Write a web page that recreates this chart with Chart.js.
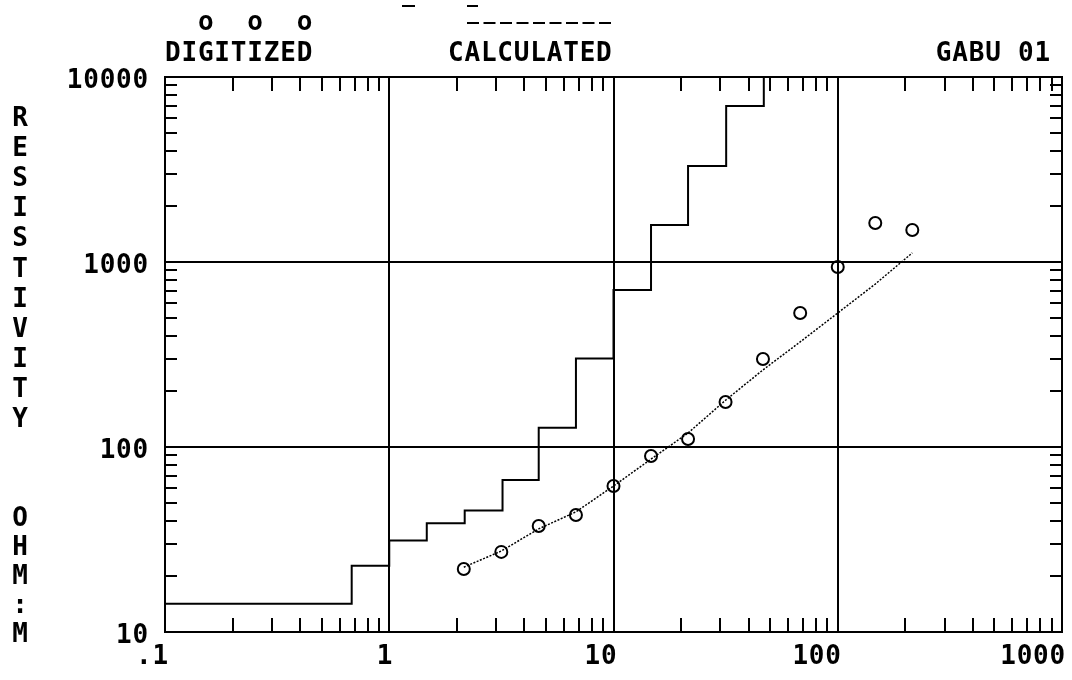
<!DOCTYPE html>
<html>
<head>
<meta charset="utf-8">
<title>GABU 01</title>
<script src="https://cdn.jsdelivr.net/npm/chart.js@4.4.1/dist/chart.umd.min.js"></script>
<style>
  html, body { margin: 0; padding: 0; background: #fff; }
  #wrap { width: 1072px; height: 680px; position: relative; }
</style>
</head>
<body>
<div id="wrap"><canvas id="sounding"></canvas></div>
<script>
// Sounding GABU 01 - apparent resistivity against AB/2 spacing
const spacing = [2.15, 3.16, 4.64, 6.8, 10, 14.7, 21.5, 31.6, 46.4, 68, 100, 147, 215];
const digitized = [21.9, 27.1, 37.4, 42.9, 61.5, 89.4, 110.5, 175, 299, 530, 940, 1625, 1490];
const calculated = [22.4, 27.4, 36.1, 44.6, 61.5, 86, 119, 179, 261, 370, 530, 760, 1120];

// layer model, drawn as a step curve
const layerTop = [0.1, 0.68, 1.0, 1.47, 2.17, 3.2, 4.64, 6.8, 10, 14.7, 21.5, 31.8, 46.8];
const layerRes = [14.2, 22.8, 31.2, 38.7, 45.3, 66.3, 127, 301, 706, 1585, 3300, 6970, 10000];

const xDecades = [0.1, 1, 10, 100, 1000];
const yDecades = [10, 100, 1000, 10000];
const xTickLabels = ['.1', '1', '10', '100', '1000'];
const yTickLabels = ['10', '100', '1000', '10000'];

const FONT = "'DejaVu Sans Mono', monospace";
const SPACING = '0.8px';

// 1..9 in every decade, for the small inside ticks
function minorTicks(decades) {
  const out = [];
  decades.forEach((d, i) => {
    if (i === decades.length - 1) {
      out.push(d);
      return;
    }
    for (let m = 1; m <= 9; m++) out.push(+(d * m).toPrecision(3));
  });
  return out;
}

function isDecade(v, decades) {
  return decades.some((d) => Math.abs(d - v) < d * 1e-6);
}

function pairs(xs, ys) {
  return xs.map((x, i) => ({ x: x, y: ys[i] }));
}

const framePlugin = {
  id: 'frame',
  beforeDraw(chart) {
    chart.ctx.letterSpacing = SPACING;
  },
  afterDraw(chart) {
    const { ctx, chartArea: a } = chart;
    const x = chart.scales.x;
    const y = chart.scales.y;

    ctx.save();
    ctx.strokeStyle = '#000';
    ctx.lineWidth = 2;
    ctx.strokeRect(a.left, a.top, a.right - a.left, a.bottom - a.top);

    // inside ticks on all four sides
    ctx.beginPath();
    x.ticks.forEach((t) => {
      const px = Math.round(x.getPixelForValue(t.value));
      ctx.moveTo(px, a.bottom);
      ctx.lineTo(px, a.bottom - 14);
      ctx.moveTo(px, a.top);
      ctx.lineTo(px, a.top + 14);
    });
    y.ticks.forEach((t) => {
      const py = Math.round(y.getPixelForValue(t.value));
      ctx.moveTo(a.left, py);
      ctx.lineTo(a.left + 12, py);
      ctx.moveTo(a.right, py);
      ctx.lineTo(a.right - 12, py);
    });
    ctx.stroke();

    // header
    ctx.fillStyle = '#000';
    ctx.font = 'bold 26px ' + FONT;
    ctx.letterSpacing = SPACING;
    ctx.textBaseline = 'alphabetic';
    ctx.textAlign = 'left';
    ctx.fillText('  o  o  o', 165, 30);
    ctx.fillText('DIGITIZED', 165, 61);
    ctx.fillText('CALCULATED', 448, 61);
    ctx.textAlign = 'right';
    ctx.fillText('GABU 01', 1051, 61);

    ctx.lineWidth = 2;
    ctx.beginPath();
    ctx.moveTo(402, 6);
    ctx.lineTo(415, 6);
    ctx.moveTo(467, 6);
    ctx.lineTo(478, 6);
    ctx.stroke();
    ctx.setLineDash([12, 4.5]);
    ctx.beginPath();
    ctx.moveTo(467, 23);
    ctx.lineTo(613, 23);
    ctx.stroke();
    ctx.setLineDash([]);

    // vertical axis title, one letter per line
    ctx.textAlign = 'center';
    ctx.letterSpacing = '0px';
    'RESISTIVITY'.split('').forEach((c, i) => {
      ctx.fillText(c, 20, 117 + i * 30.1 + 9);
    });
    'OHM:M'.split('').forEach((c, i) => {
      ctx.fillText(c, 20, 517 + i * 29 + 9);
    });
    ctx.restore();
  },
};

new Chart(document.getElementById('sounding'), {
  type: 'scatter',
  data: {
    datasets: [
      {
        label: 'DIGITIZED',
        data: pairs(spacing, digitized),
        showLine: false,
        pointStyle: 'circle',
        pointRadius: 6,
        pointBorderWidth: 2,
        pointBorderColor: '#000',
        pointBackgroundColor: 'rgba(0,0,0,0)',
      },
      {
        label: 'CALCULATED',
        data: pairs(spacing, calculated),
        showLine: true,
        borderColor: '#000',
        borderWidth: 1.5,
        borderDash: [2, 1.5],
        pointRadius: 0,
      },
      {
        label: 'MODEL',
        data: pairs(layerTop, layerRes),
        showLine: true,
        stepped: 'before',
        borderColor: '#000',
        borderWidth: 2,
        pointRadius: 0,
      },
    ],
  },
  options: {
    responsive: true,
    maintainAspectRatio: false,
    animation: false,
    events: [],
    layout: { padding: { top: 77, right: 8, left: 0, bottom: 0 } },
    font: { family: FONT },
    plugins: {
      legend: { display: false },
      tooltip: { enabled: false },
    },
    scales: {
      x: {
        type: 'logarithmic',
        min: 0.1,
        max: 1000,
        afterBuildTicks: (scale) => {
          scale.ticks = minorTicks(xDecades).map((v) => ({ value: v }));
        },
        afterFit: (scale) => {
          scale.height = 48;
        },
        border: { display: false },
        grid: {
          drawTicks: false,
          lineWidth: 2,
          color: (c) => (c.tick && isDecade(c.tick.value, xDecades) ? '#000' : 'rgba(0,0,0,0)'),
        },
        ticks: {
          autoSkip: false,
          maxRotation: 0,
          align: 'end',
          labelOffset: 4,
          padding: 10,
          color: '#000',
          font: { family: FONT, size: 26, weight: 'bold' },
          callback: (v) => {
            const i = xDecades.findIndex((d) => Math.abs(d - v) < d * 1e-6);
            return i >= 0 ? xTickLabels[i] : '';
          },
        },
      },
      y: {
        type: 'logarithmic',
        min: 10,
        max: 10000,
        afterBuildTicks: (scale) => {
          scale.ticks = minorTicks(yDecades).map((v) => ({ value: v }));
        },
        afterFit: (scale) => {
          scale.width = 165;
        },
        border: { display: false },
        grid: {
          drawTicks: false,
          lineWidth: 2,
          color: (c) => (c.tick && isDecade(c.tick.value, yDecades) ? '#000' : 'rgba(0,0,0,0)'),
        },
        ticks: {
          autoSkip: false,
          labelOffset: 4,
          padding: 16,
          color: '#000',
          font: { family: FONT, size: 26, weight: 'bold' },
          callback: (v) => {
            const i = yDecades.findIndex((d) => Math.abs(d - v) < d * 1e-6);
            return i >= 0 ? yTickLabels[i] : '';
          },
        },
      },
    },
  },
  plugins: [framePlugin],
});
</script>
</body>
</html>
